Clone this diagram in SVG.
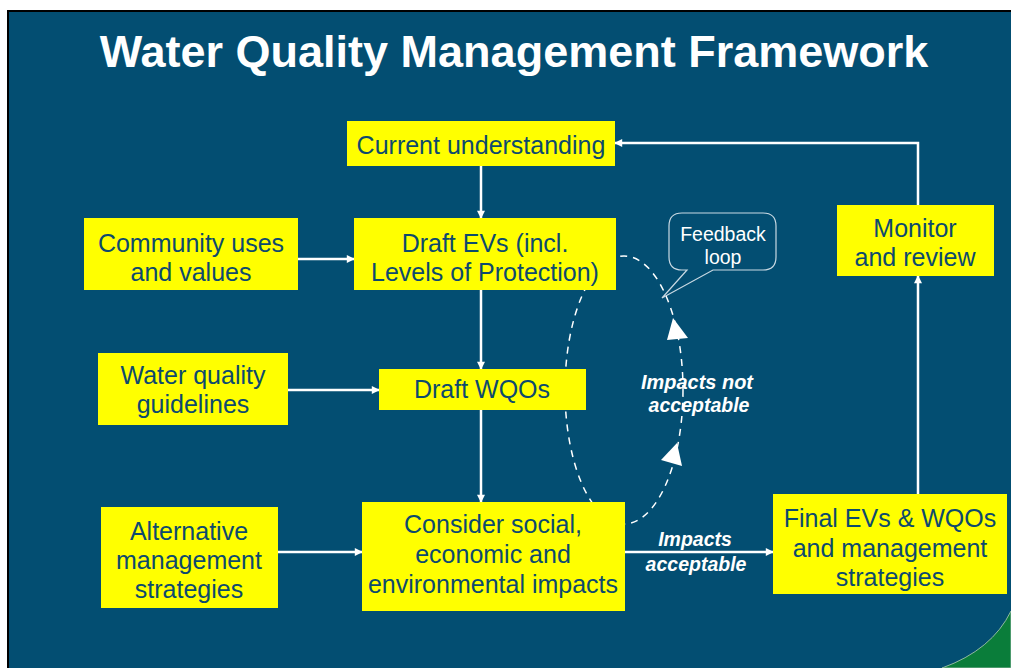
<svg xmlns="http://www.w3.org/2000/svg" width="1011" height="668" viewBox="0 0 1011 668">
<defs>
<style>
.box{fill:#ffff00;}
.bt{font-family:"Liberation Sans",Arial,sans-serif;font-size:25px;fill:#0d4a6e;text-anchor:middle;}
.lbl{font-family:"Liberation Sans",Arial,sans-serif;font-size:19.5px;font-weight:bold;font-style:italic;fill:#ffffff;text-anchor:middle;}
.conn{stroke:#ffffff;stroke-width:2.5;fill:none;}
</style>
<marker id="ah" viewBox="0 0 10 10" refX="9" refY="5" markerWidth="10" markerHeight="8" markerUnits="userSpaceOnUse" orient="auto">
<path d="M0,0 L10,5 L0,10 Z" fill="#ffffff"/>
</marker>
</defs>
<rect x="0" y="0" width="1011" height="668" fill="#ffffff"/>
<rect x="8" y="11" width="1010" height="665" fill="#034e72" stroke="#000000" stroke-width="2"/>
<path d="M1011,611 Q992,650 942,668 L1011,668 Z" fill="#0a7d3a" stroke="#8fb9a0" stroke-width="1"/>
<text x="514" y="67" font-family="Liberation Sans, Arial, sans-serif" font-size="45" font-weight="bold" fill="#ffffff" text-anchor="middle">Water Quality Management Framework</text>

<g id="connectors">
<ellipse cx="624" cy="390" rx="59" ry="134" fill="none" stroke="#ffffff" stroke-width="1.5" stroke-dasharray="7,6"/>
<path d="M673,318 L688,338 L667,340 Z" fill="#ffffff"/>
<path d="M677,443 L682,466 L661,460 Z" fill="#ffffff"/>
<line class="conn" x1="481" y1="166" x2="481" y2="218" marker-end="url(#ah)"/>
<line class="conn" x1="298" y1="259" x2="354" y2="259" marker-end="url(#ah)"/>
<line class="conn" x1="481" y1="290" x2="481" y2="369" marker-end="url(#ah)"/>
<line class="conn" x1="288" y1="390" x2="379" y2="390" marker-end="url(#ah)"/>
<line class="conn" x1="481" y1="410" x2="481" y2="502" marker-end="url(#ah)"/>
<line class="conn" x1="278" y1="552" x2="362" y2="552" marker-end="url(#ah)"/>
<line class="conn" x1="625" y1="552" x2="773" y2="552" marker-end="url(#ah)"/>
<line class="conn" x1="918" y1="494" x2="918" y2="276" marker-end="url(#ah)"/>
<polyline class="conn" points="918,205 918,143 615,143" marker-end="url(#ah)"/>
<text class="lbl" x="697" y="389" textLength="112" lengthAdjust="spacingAndGlyphs">Impacts not</text>
<text class="lbl" x="699" y="412">acceptable</text>
<text class="lbl" x="695" y="546">Impacts</text>
<text class="lbl" x="696" y="571">acceptable</text>
</g>

<g id="feedback">
<path d="M682,213 H763 Q776,213 776,226 V257 Q776,270 763,270 H713 L662,298 L687,270 H682 Q669,270 669,257 V226 Q669,213 682,213 Z" fill="#034e72" stroke="#c9d9e3" stroke-width="1.2"/>
<text x="723" y="241" font-family="Liberation Sans, Arial, sans-serif" font-size="19.5" fill="#ffffff" text-anchor="middle">Feedback</text>
<text x="723" y="264" font-family="Liberation Sans, Arial, sans-serif" font-size="19.5" fill="#ffffff" text-anchor="middle">loop</text>
</g>

<g id="current">
<rect class="box" x="347" y="121" width="268" height="45"/>
<text class="bt" x="481" y="154">Current understanding</text>
</g>
<g id="community">
<rect class="box" x="84" y="218" width="214" height="72"/>
<text class="bt" x="191" y="252">Community uses</text>
<text class="bt" x="191" y="281">and values</text>
</g>
<g id="draftevs">
<rect class="box" x="354" y="218" width="262" height="72"/>
<text class="bt" x="485" y="252">Draft EVs (incl.</text>
<text class="bt" x="485" y="281">Levels of Protection)</text>
</g>
<g id="wqg">
<rect class="box" x="98" y="353" width="190" height="72"/>
<text class="bt" x="193" y="384">Water quality</text>
<text class="bt" x="193" y="413">guidelines</text>
</g>
<g id="draftwqos">
<rect class="box" x="379" y="369" width="207" height="41"/>
<text class="bt" x="482" y="398">Draft WQOs</text>
</g>
<g id="alternative">
<rect class="box" x="101" y="507" width="177" height="101"/>
<text class="bt" x="189" y="540">Alternative</text>
<text class="bt" x="189" y="569">management</text>
<text class="bt" x="189" y="598">strategies</text>
</g>
<g id="consider">
<rect class="box" x="362" y="502" width="263" height="109"/>
<text class="bt" x="493" y="533">Consider social,</text>
<text class="bt" x="493" y="563">economic and</text>
<text class="bt" x="493" y="593">environmental impacts</text>
</g>
<g id="final">
<rect class="box" x="773" y="494" width="234" height="100"/>
<text class="bt" x="890" y="527">Final EVs &amp; WQOs</text>
<text class="bt" x="890" y="557">and management</text>
<text class="bt" x="890" y="586">strategies</text>
</g>
<g id="monitor">
<rect class="box" x="837" y="205" width="157" height="71"/>
<text class="bt" x="915" y="237">Monitor</text>
<text class="bt" x="915" y="266">and review</text>
</g>
</svg>
